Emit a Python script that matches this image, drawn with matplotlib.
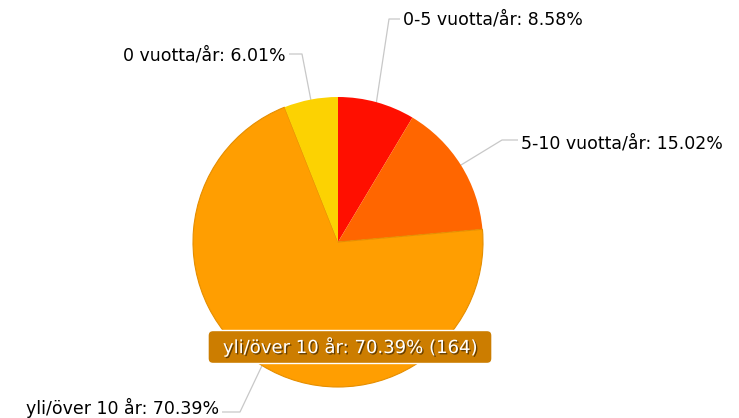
import matplotlib.pyplot as plt
import numpy as np
from matplotlib.patches import FancyBboxPatch
import matplotlib.patheffects as pe

# data
labels = ['0-5 vuotta/år', '5-10 vuotta/år', 'yli/över 10 år', '0 vuotta/år']
counts = [20, 35, 164, 14]
percents = [8.58, 15.02, 70.39, 6.01]
colors = ['#FF0F00', '#FF6600', '#FF9E01', '#FCD202']

W, H = 739, 418
fig = plt.figure(figsize=(W / 100, H / 100), dpi=100)
ax = fig.add_axes([0, 0, 1, 1])

cx, cy, R = 338, H - 242, 145
wedges, _ = ax.pie(counts, colors=colors, startangle=90, counterclock=False,
                   center=(cx, cy), radius=R, frame=True,
                   wedgeprops=dict(linewidth=0.6, edgecolor='none', zorder=2))
ax.set_xlim(0, W)
ax.set_ylim(0, H)
ax.set_aspect('equal')
ax.axis('off')
# thin darker outline on the big slice
wedges[2].set_edgecolor('#E58E00')
wedges[2].set_linewidth(0.8)

# label layout: elbow point, text anchor, alignment
layout = [
    ((389, 19), (403, 20), 'left'),
    ((502, 140), (521, 143), 'left'),
    ((240, 412), (219, 408), 'right'),
    ((302, 54), (286, 56), 'right'),
]

total = sum(counts)
start = 0.0
for i, (lab, c, p) in enumerate(zip(labels, counts, percents)):
    mid = (start + c / 2) / total * 2 * np.pi
    start += c
    ex = cx + (R - 2) * np.sin(mid)
    ey = cy + (R - 2) * np.cos(mid)
    (bx, by), (tx, ty), ha = layout[i]
    hx = tx - 3 if ha == 'left' else tx + 3
    ax.plot([ex, bx, hx], [ey, H - by, H - by], color='#c8c8c8', lw=0.9,
            solid_capstyle='butt', zorder=1)
    ax.text(tx, H - ty, f'{lab}: {p:.2f}%', ha=ha, va='center',
            fontsize=12.5, color='#000000', family='DejaVu Sans')

# balloon for the hovered slice
bw, bh = 284, 33
bxc, byc = 350, H - 347
box = FancyBboxPatch((bxc - bw / 2, byc - bh / 2), bw, bh,
                     boxstyle='round,pad=0,rounding_size=5',
                     facecolor='#CC7D00', edgecolor='#ffffff', lw=1.0, zorder=5)
ax.add_patch(box)
ax.text(bxc, byc, f'{labels[2]}: {percents[2]:.2f}% ({counts[2]})',
        ha='center', va='center', fontsize=13, color='white', zorder=6,
        family='DejaVu Sans',
        path_effects=[pe.withSimplePatchShadow(offset=(1, -1), shadow_rgbFace='#000000', alpha=0.5)])

fig.savefig('out.png', dpi=100)
